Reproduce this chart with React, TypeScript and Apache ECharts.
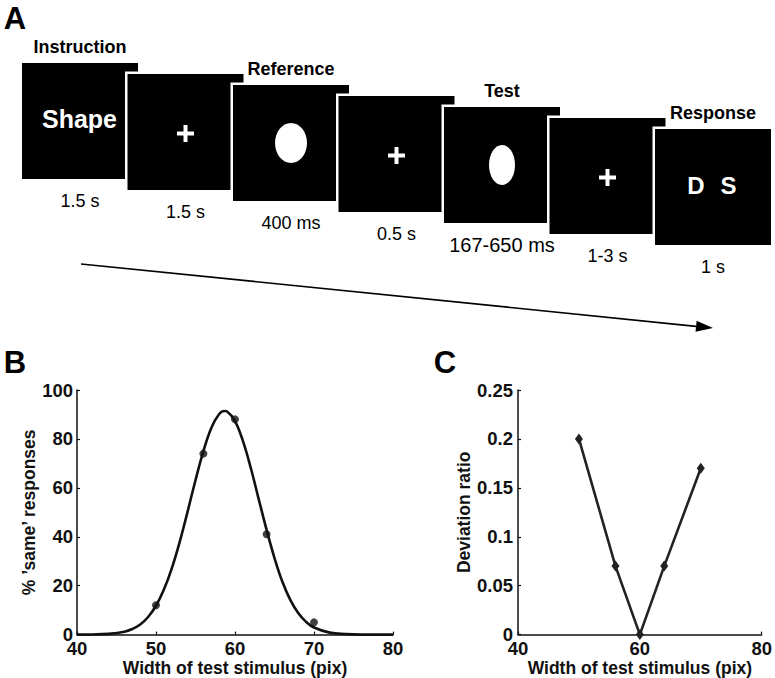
import React, { useEffect, useRef } from "react";
import * as echarts from "echarts";

// ---------- Panel A (task timeline) ----------
const screenTitles = ["Instruction", "", "Reference", "", "Test", "", "Response"];
const screenDurations = ["1.5 s", "1.5 s", "400 ms", "0.5 s", "167-650 ms", "1-3 s", "1 s"];
const screenContent = ["Shape", "+", "ellipseWide", "+", "ellipseNarrow", "+", "DS"];

// ---------- Panel B ----------
const bStimWidth = [50, 56, 60, 64, 70];
const bSamePct = [12, 74, 88, 41, 5];
const bFitX = [40, 42, 44, 46, 47, 48, 49, 50, 51, 52, 53, 54, 55, 56, 57, 58, 58.7, 59, 60, 61, 62, 63, 64, 65, 66, 67, 68, 69, 70, 72, 74, 76, 78, 80];
const bFitY = [0, 0.05, 0.3, 1.2, 2.3, 4.1, 7.2, 11.8, 18.4, 27.1, 37.9, 50.3, 63.1, 75.0, 84.5, 90.2, 91.4, 91.2, 87.3, 79.2, 68.1, 55.4, 42.8, 31.3, 21.6, 14.2, 8.8, 5.2, 2.9, 0.8, 0.2, 0, 0, 0];
const bXTicks = [40, 50, 60, 70, 80];
const bYTicks = [0, 20, 40, 60, 80, 100];

// ---------- Panel C ----------
const cStimWidth = [50, 56, 60, 64, 70];
const cDeviation = [0.2, 0.07, 0, 0.07, 0.17];
const cXTicks = [40, 60, 80];
const cYTicks = [0, 0.05, 0.1, 0.15, 0.2, 0.25];

const FONT = "'Liberation Sans', Arial, Helvetica, sans-serif";

function txt(text: string, x: number, y: number, size: number, bold: boolean, fill = "#000") {
  return {
    type: "text",
    style: {
      text,
      x,
      y,
      fill,
      fontSize: size,
      fontWeight: bold ? "bold" : "normal",
      fontFamily: FONT,
      align: "center",
      verticalAlign: "middle",
      textAlign: "center",
      textVerticalAlign: "middle",
    },
  };
}

function buildPanelA(): any[] {
  const els: any[] = [];
  const size = 116;
  const x0 = 22;
  const y0 = 63;
  const dx = 105.5;
  const dy = 11;
  for (let i = 0; i < screenDurations.length; i++) {
    const x = x0 + i * dx;
    const y = y0 + i * dy;
    const cx = x + size / 2;
    const cy = y + size / 2;
    els.push({ type: "rect", shape: { x: x - 2.5, y: y - 2.5, width: size + 5, height: size + 5 }, style: { fill: "#fff" } });
    els.push({ type: "rect", shape: { x, y, width: size, height: size }, style: { fill: "#000" } });
    const c = screenContent[i];
    if (c === "Shape") {
      els.push(txt("Shape", cx - 0.5, cy - 2, 25, true, "#fff"));
    } else if (c === "+") {
      els.push({ type: "rect", shape: { x: cx - 8.5, y: cy + 1.5 - 2, width: 17, height: 4 }, style: { fill: "#fff" } });
      els.push({ type: "rect", shape: { x: cx - 2, y: cy + 1.5 - 8.5, width: 4, height: 17 }, style: { fill: "#fff" } });
    } else if (c === "ellipseWide") {
      els.push({ type: "ellipse", shape: { cx, cy, rx: 16, ry: 20 }, style: { fill: "#fff" } });
    } else if (c === "ellipseNarrow") {
      els.push({ type: "ellipse", shape: { cx, cy, rx: 13, ry: 20 }, style: { fill: "#fff" } });
    } else if (c === "DS") {
      els.push(txt("D", cx - 17, cy - 1.5, 24, true, "#fff"));
      els.push(txt("S", cx + 15.5, cy - 1.5, 24, true, "#fff"));
    }
    if (screenTitles[i]) {
      els.push(txt(screenTitles[i], cx, y - 16, 18, true));
    }
    const dur = screenDurations[i];
    els.push(txt(dur, cx, y + size + 22, dur.length > 7 ? 20 : 18, false));
  }
  // time arrow
  const sx = 81, sy = 264, ex = 713, ey = 328;
  const len = Math.hypot(ex - sx, ey - sy);
  const ux = (ex - sx) / len, uy = (ey - sy) / len;
  const hl = 17, hw = 5.5;
  const bx = ex - hl * ux, by = ey - hl * uy;
  els.push({ type: "line", shape: { x1: sx, y1: sy, x2: bx, y2: by }, style: { stroke: "#000", lineWidth: 1.7 } });
  els.push({
    type: "polygon",
    shape: { points: [[ex, ey], [bx - hw * uy, by + hw * ux], [bx + hw * uy, by - hw * ux]] },
    style: { fill: "#000" },
  });
  // panel letters
  els.push(txt("A", 15, 18, 31, true));
  els.push(txt("B", 15, 362, 31, true));
  els.push(txt("C", 445, 362, 31, true));
  return els;
}

const axisLabelStyle = { fontSize: 18.5, fontWeight: "bold", fontFamily: FONT, color: "#111", lineHeight: 12 };
const nameStyle = { fontSize: 17.5, fontWeight: "bold", fontFamily: FONT, color: "#111" };

export default function App() {
  const ref = useRef<HTMLDivElement>(null);
  useEffect(() => {
    if (!ref.current) return;
    const chart = echarts.init(ref.current, null, { renderer: "svg" });
    const axisLine = { show: true, onZero: false, lineStyle: { color: "#111", width: 1.5 } };
    const tick = { show: true, inside: true, length: 3, lineStyle: { color: "#111", width: 1.2 } };
    chart.setOption({
      animation: false,
      backgroundColor: "#fff",
      grid: [
        { left: 77, top: 390, width: 316, height: 245 },
        { left: 518, top: 390, width: 244, height: 245 },
      ],
      xAxis: [
        {
          gridIndex: 0, type: "value", min: bXTicks[0], max: bXTicks[bXTicks.length - 1], interval: 10,
          axisLine, axisTick: tick, splitLine: { show: false },
          axisLabel: { ...axisLabelStyle, margin: 8 },
          name: "Width of test stimulus (pix)", nameLocation: "middle", nameGap: 21, nameTextStyle: nameStyle,
        },
        {
          gridIndex: 1, type: "value", min: cXTicks[0], max: cXTicks[cXTicks.length - 1], interval: 20,
          axisLine, axisTick: tick, splitLine: { show: false },
          axisLabel: { ...axisLabelStyle, margin: 8 },
          name: "Width of test stimulus (pix)", nameLocation: "middle", nameGap: 21, nameTextStyle: nameStyle,
        },
      ],
      yAxis: [
        {
          gridIndex: 0, type: "value", min: bYTicks[0], max: bYTicks[bYTicks.length - 1], interval: 20,
          axisLine, axisTick: tick, splitLine: { show: false },
          axisLabel: { ...axisLabelStyle, margin: 4 },
          name: "% \u2019same\u2019 responses", nameLocation: "middle", nameGap: 36, nameTextStyle: nameStyle,
        },
        {
          gridIndex: 1, type: "value", min: cYTicks[0], max: cYTicks[cYTicks.length - 1], interval: 0.05,
          axisLine, axisTick: tick, splitLine: { show: false },
          axisLabel: { ...axisLabelStyle, margin: 5 },
          name: "Deviation ratio", nameLocation: "middle", nameGap: 41, nameTextStyle: nameStyle,
        },
      ],
      series: [
        {
          type: "line", xAxisIndex: 0, yAxisIndex: 0, smooth: 0.4, showSymbol: false, symbol: "none",
          data: bFitX.map((x, i) => [x, bFitY[i]]),
          lineStyle: { color: "#111", width: 2.6 }, z: 3,
        },
        {
          type: "scatter", xAxisIndex: 0, yAxisIndex: 0, symbol: "circle", symbolSize: 8,
          data: bStimWidth.map((x, i) => [x, bSamePct[i]]),
          itemStyle: { color: "#111" }, z: 4,
        },
        {
          type: "line", xAxisIndex: 1, yAxisIndex: 1, symbol: "diamond", symbolSize: [8, 11], showSymbol: true,
          data: cStimWidth.map((x, i) => [x, cDeviation[i]]),
          lineStyle: { color: "#222", width: 2.6 }, itemStyle: { color: "#222" }, z: 3,
        },
      ],
      graphic: buildPanelA(),
    });
    return () => chart.dispose();
  }, []);
  return (
    <div
      ref={ref}
      style={{ position: "fixed", left: 0, top: 0, width: 775, height: 678, background: "#fff" }}
    />
  );
}
